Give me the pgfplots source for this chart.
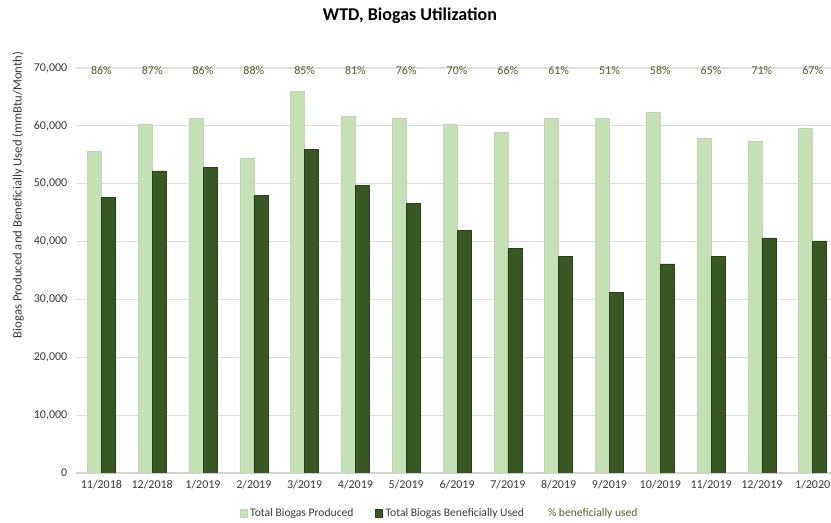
\documentclass[border=0pt]{standalone}
\usepackage{fontspec}
\setmainfont{Carlito}
\usepackage{pgfplots}
\usepackage{pgfplotstable}
\pgfplotsset{compat=1.18}
\usetikzlibrary{calc}
\definecolor{prodgreen}{RGB}{197,224,180}
\definecolor{usedgreen}{RGB}{56,87,35}
\definecolor{useddraw}{RGB}{40,64,24}
\definecolor{pctgreen}{RGB}{79,98,40}
\definecolor{ticktext}{RGB}{55,55,55}

% month index, produced, beneficially used, label height, share used
\pgfplotstableread{
x prod used ly pct
0  55550 47700 69500 86\%
1  60300 52200 69500 87\%
2  61350 52850 69500 86\%
3  54350 48000 69500 88\%
4  65900 55950 69500 85\%
5  61650 49700 69500 81\%
6  61350 46650 69500 76\%
7  60300 41900 69500 70\%
8  58900 38800 69500 66\%
9  61350 37450 69500 61\%
10 61350 31200 69500 51\%
11 62350 36150 69500 58\%
12 57800 37500 69500 65\%
13 57400 40650 69500 71\%
14 59650 40100 69500 67\%
}\biogas

\begin{document}
\begin{tikzpicture}
\begin{axis}[
    name=ax,
    scale only axis,
    width=566.25pt, height=303.75pt,
    xmin=-0.5, xmax=14.36,
    ymin=0, ymax=70000,
    ytick={0,10000,...,70000},
    xtick={0,...,14},
    xticklabels={11/2018,12/2018,1/2019,2/2019,3/2019,4/2019,5/2019,6/2019,7/2019,8/2019,9/2019,10/2019,11/2019,12/2019,1/2020},
    /pgf/number format/assume math mode=true,
    /pgf/number format/fixed,
    /pgf/number format/1000 sep={,},
    scaled y ticks=false,
    tick label style={font=\fontsize{9}{10}\selectfont, text=ticktext},
    xticklabel style={yshift=-2pt},
    yticklabel style={xshift=-3pt},
    major tick length=0pt,
    axis x line*=bottom, axis y line*=left,
    x axis line style={draw={rgb,255:red,210;green,210;blue,210}, line width=0.9pt, -},
    y axis line style={draw=none},
    ymajorgrids, grid style={draw={rgb,255:red,222;green,222;blue,222}, line width=0.9pt},
    legend style={at={(axis description cs:0.482,-0.099)}, anchor=center,
        draw=none, fill=none, font=\fontsize{8.7}{10}\selectfont, text=ticktext,
        legend columns=-1, /tikz/every even column/.append style={column sep=14pt}},
    legend image code/.code={\fill[#1] (0pt,-2.8pt) rectangle (5.6pt,2.8pt);},
    nodes near coords align={center},
]
\addplot[ybar, bar width=10.5pt, bar shift=-5.25pt, fill=prodgreen, draw=prodgreen!90!black!80]
    table[x=x, y=prod] {\biogas};
\addlegendentry{Total Biogas Produced}
\addplot[ybar, bar width=10.5pt, bar shift=5.25pt, fill=usedgreen, draw=useddraw]
    table[x=x, y=used] {\biogas};
\addlegendentry{Total Biogas Beneficially Used}
\addplot[draw=none, mark=none, legend image code/.code={},
    nodes near coords, point meta=explicit symbolic,
    every node near coord/.append style={font=\fontsize{9}{10}\selectfont, text=pctgreen}]
    table[x=x, y=ly, meta=pct] {\biogas};
\addlegendentry{\textcolor{pctgreen}{\% beneficially used}}
\end{axis}
\node[font=\bfseries\fontsize{13.5}{15}\selectfont] at ($(ax.north west)+(250.5pt,39pt)$) {WTD, Biogas Utilization};
\node[rotate=90, font=\fontsize{9.5}{11}\selectfont, text=ticktext] at ($(ax.north west)+(-43.5pt,-95.25pt)$) {Biogas Produced and Beneficially Used (mmBtu/Month)};
\pgfresetboundingbox
\path ($(ax.south west)+(-57pt,-37.5pt)$) rectangle ($(ax.north east)+(0pt,51pt)$);
\end{tikzpicture}
\end{document}
